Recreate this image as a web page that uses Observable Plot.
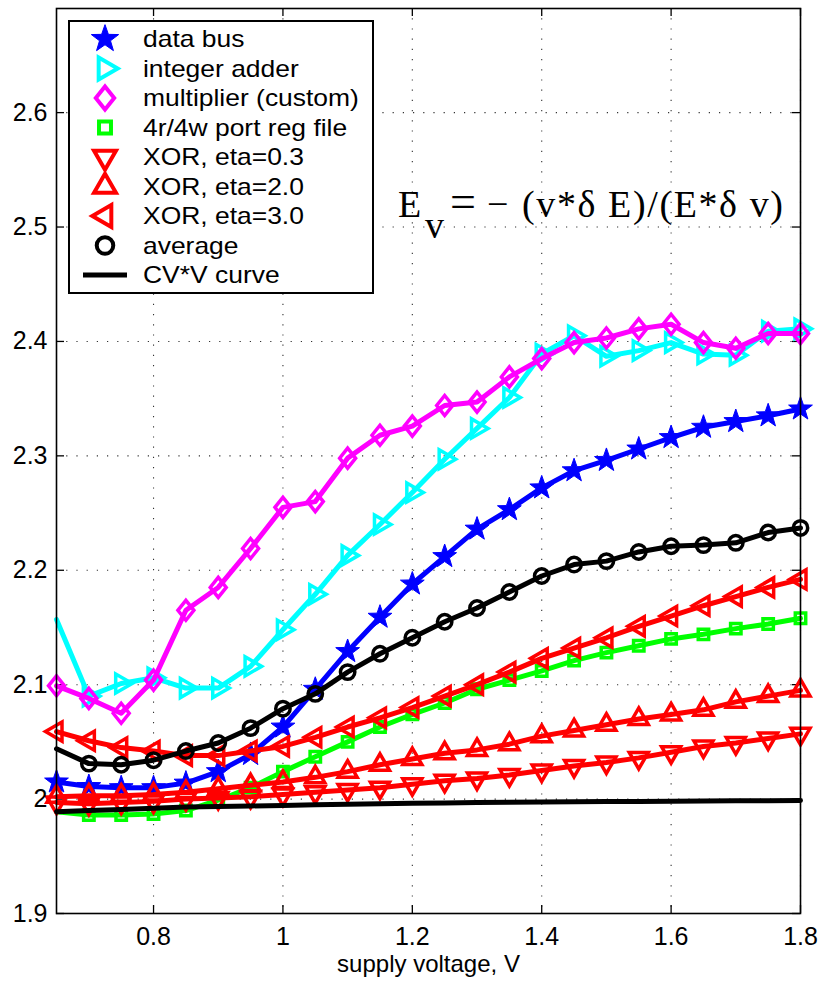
<!DOCTYPE html>
<html>
<head>
<meta charset="utf-8">
<script src="https://cdn.jsdelivr.net/npm/d3@7"></script>
<script src="https://cdn.jsdelivr.net/npm/@observablehq/plot@0.6"></script>
<style>
  html, body { margin: 0; padding: 0; background: #fff; }
  #chart { width: 820px; height: 984px; }
</style>
</head>
<body>
<div id="chart"></div>
<script>
// ---------- data ----------
const voltage = [0.65, 0.70, 0.75, 0.80, 0.85, 0.90, 0.95, 1.00, 1.05, 1.10, 1.15, 1.20,
                 1.25, 1.30, 1.35, 1.40, 1.45, 1.50, 1.55, 1.60, 1.65, 1.70, 1.75, 1.80];

const dataBus    = [2.015, 2.011, 2.010, 2.010, 2.014, 2.024, 2.039, 2.063, 2.096, 2.129, 2.159, 2.188,
                    2.212, 2.236, 2.253, 2.272, 2.287, 2.296, 2.306, 2.316, 2.325, 2.330, 2.335, 2.341];
const intAdder   = [2.157, 2.090, 2.101, 2.106, 2.097, 2.097, 2.116, 2.148, 2.179, 2.213, 2.240, 2.268,
                    2.297, 2.324, 2.351, 2.389, 2.405, 2.387, 2.392, 2.399, 2.389, 2.388, 2.409, 2.411];
const multiplier = [2.099, 2.088, 2.075, 2.104, 2.165, 2.185, 2.219, 2.255, 2.260, 2.298, 2.318, 2.326,
                    2.344, 2.347, 2.369, 2.385, 2.399, 2.403, 2.411, 2.415, 2.399, 2.394, 2.407, 2.407];
const regFile    = [1.989, 1.986, 1.986, 1.987, 1.990, 1.999, 2.010, 2.024, 2.037, 2.050, 2.063, 2.074,
                    2.084, 2.096, 2.104, 2.112, 2.121, 2.128, 2.134, 2.140, 2.144, 2.149, 2.153, 2.158];
const xorEta03   = [1.997, 1.996, 1.997, 1.998, 2.000, 2.001, 2.002, 2.004, 2.006, 2.008, 2.010, 2.013,
                    2.016, 2.018, 2.021, 2.025, 2.029, 2.032, 2.036, 2.041, 2.046, 2.049, 2.053, 2.057];
const xorEta20   = [2.002, 2.003, 2.003, 2.004, 2.006, 2.009, 2.012, 2.015, 2.019, 2.024, 2.030, 2.035,
                    2.040, 2.043, 2.048, 2.055, 2.060, 2.065, 2.070, 2.074, 2.078, 2.085, 2.090, 2.095];
const xorEta30   = [2.059, 2.051, 2.045, 2.042, 2.038, 2.038, 2.042, 2.046, 2.054, 2.063, 2.071, 2.080,
                    2.090, 2.100, 2.111, 2.123, 2.132, 2.141, 2.151, 2.160, 2.169, 2.177, 2.185, 2.192];
const average    = [2.044, 2.031, 2.030, 2.034, 2.042, 2.049, 2.062, 2.079, 2.092, 2.111, 2.127, 2.141,
                    2.155, 2.167, 2.181, 2.195, 2.205, 2.208, 2.216, 2.221, 2.222, 2.224, 2.233, 2.237];
const cvvCurve   = [1.989, 1.990, 1.991, 1.992, 1.993, 1.9935, 1.994, 1.9945, 1.995, 1.9955, 1.996, 1.9963,
                    1.9966, 1.997, 1.9972, 1.9975, 1.9977, 1.998, 1.998, 1.9982, 1.9983, 1.9985, 1.9986, 1.9987];

const seriesNames = ["data bus", "integer adder", "multiplier (custom)", "4r/4w port reg file",
                     "XOR, eta=0.3", "XOR, eta=2.0", "XOR, eta=3.0", "average", "CV*V curve"];
const seriesValues = [dataBus, intAdder, multiplier, regFile, xorEta03, xorEta20, xorEta30, average, cvvCurve];

const xTicks = [0.8, 1, 1.2, 1.4, 1.6, 1.8];
const yTicks = [1.9, 2, 2.1, 2.2, 2.3, 2.4, 2.5, 2.6];
const xLabel = "supply voltage, V";

// ---------- custom symbols (r = outer radius) ----------
function poly(points) {
  return {
    draw(ctx, size) {
      const r = Math.sqrt(size / Math.PI);
      points.forEach(([px, py], i) => i ? ctx.lineTo(px * r, py * r) : ctx.moveTo(px * r, py * r));
      ctx.closePath();
    }
  };
}
const s3 = Math.sqrt(3) / 2;
const triUp    = poly([[0, -1], [s3, 0.5], [-s3, 0.5]]);
const triDown  = poly([[0, 1], [s3, -0.5], [-s3, -0.5]]);
const triRight = poly([[1, 0], [-0.5, s3], [-0.5, -s3]]);
const triLeft  = poly([[-1, 0], [0.5, s3], [0.5, -s3]]);
const diamond  = poly([[0, -1], [0.8, 0], [0, 1], [-0.8, 0]]);
const square   = poly([[-1, -1], [1, -1], [1, 1], [-1, 1]]);
const starPts = [];
for (let k = 0; k < 10; k++) {
  const a = -Math.PI / 2 + k * Math.PI / 5;
  const rr = k % 2 ? 0.40 : 1;
  starPts.push([rr * Math.cos(a), rr * Math.sin(a)]);
}
const star = poly(starPts);

// style per series
const styles = [
  {color: "#0000ff", symbol: star,     r: 12.5, fill: true,  skipFirst: false},
  {color: "#00ffff", symbol: triRight, r: 11,   fill: false, skipFirst: true},
  {color: "#ff00ff", symbol: diamond,  r: 10,   fill: false, skipFirst: false},
  {color: "#00ff00", symbol: square,   r: 5.2,  fill: false, skipFirst: true},
  {color: "#ff0000", symbol: triDown,  r: 11,   fill: false, skipFirst: false},
  {color: "#ff0000", symbol: triUp,    r: 11,   fill: false, skipFirst: false},
  {color: "#ff0000", symbol: triLeft,  r: 11,   fill: false, skipFirst: false},
  {color: "#000000", symbol: "circle", r: 7.2,  fill: false, skipFirst: true},
  {color: "#000000", symbol: null,     r: 0,    fill: false, skipFirst: false}
];

const xDomain = [0.65, 1.8];
const yDomain = [1.9, 2.691];
const W = 820, H = 984, mL = 56, mR = 20, mT = 8, mB = 71;
const pxX = (W - mL - mR) / (xDomain[1] - xDomain[0]);
const pxY = (H - mT - mB) / (yDomain[1] - yDomain[0]);
const tickLen = 8;
const FONT = "'Liberation Sans', Arial, Helvetica, sans-serif";

const marks = [];
// grid
marks.push(Plot.ruleX(xTicks, {x: d => d, stroke: "#333", strokeWidth: 1.1, strokeDasharray: "1.2,9"}));
marks.push(Plot.ruleY(yTicks, {y: d => d, stroke: "#333", strokeWidth: 1.1, strokeDasharray: "1.2,9"}));
// inward ticks on all sides
marks.push(Plot.ruleX(xTicks, {x: d => d, y1: yDomain[0], y2: yDomain[0] + tickLen / pxY, stroke: "#000", strokeWidth: 1.3}));
marks.push(Plot.ruleX(xTicks, {x: d => d, y1: yDomain[1], y2: yDomain[1] - tickLen / pxY, stroke: "#000", strokeWidth: 1.3}));
marks.push(Plot.ruleY(yTicks, {y: d => d, x1: xDomain[0], x2: xDomain[0] + tickLen / pxX, stroke: "#000", strokeWidth: 1.3}));
marks.push(Plot.ruleY(yTicks, {y: d => d, x1: xDomain[1], x2: xDomain[1] - tickLen / pxX, stroke: "#000", strokeWidth: 1.3}));

// series
seriesValues.forEach((vals, si) => {
  const st = styles[si];
  const rows = voltage.map((v, i) => ({v, e: vals[i]}));
  marks.push(Plot.line(rows, {x: "v", y: "e", stroke: st.color, strokeWidth: 5, strokeLinejoin: "round"}));
  if (st.symbol) {
    const pts = st.skipFirst ? rows.slice(1) : rows;
    marks.push(Plot.dot(pts, {
      x: "v", y: "e", symbol: st.symbol, r: st.r,
      stroke: st.color, strokeWidth: st.fill ? 1 : 3.5,
      fill: st.fill ? st.color : "none"
    }));
  }
});

// frame
marks.push(Plot.frame({stroke: "#000", strokeWidth: 1.6}));
// tick labels
marks.push(Plot.text(xTicks, {x: d => d, y: yDomain[0], dy: 23, text: d => String(d), fontSize: 25, fill: "#000"}));
marks.push(Plot.text(yTicks, {x: xDomain[0], y: d => d, dx: -9, textAnchor: "end", text: d => String(d), fontSize: 25, fill: "#000"}));
marks.push(Plot.text([xLabel], {frameAnchor: "bottom", dy: 58, text: d => d, fontSize: 24, fill: "#000"}));

const chart = Plot.plot({
  width: W, height: H,
  marginLeft: mL, marginRight: mR, marginTop: mT, marginBottom: mB,
  x: {domain: xDomain, axis: null},
  y: {domain: yDomain, axis: null},
  style: {background: "#fff", overflow: "visible", fontFamily: FONT},
  marks
});
document.getElementById("chart").appendChild(chart);

// ---------- legend + equation overlay ----------
const svg = d3.select(chart);
const lg = svg.append("g").attr("text-anchor", "start").attr("font-family", FONT);
lg.append("rect").attr("x", 69).attr("y", 21).attr("width", 304).attr("height", 272)
  .attr("fill", "#fff").attr("stroke", "#000").attr("stroke-width", 2);
const rowY0 = 39, rowDY = 29.5, symX = 105, textX = 143, lgScale = 1.15;
seriesNames.forEach((name, i) => {
  const st = styles[i];
  const y = rowY0 + i * rowDY;
  if (st.symbol) {
    const type = st.symbol === "circle" ? d3.symbolCircle : st.symbol;
    const rr = st.r * lgScale;
    lg.append("path")
      .attr("transform", `translate(${symX},${y})`)
      .attr("d", d3.symbol(type, Math.PI * rr * rr)())
      .attr("fill", st.fill ? st.color : "none")
      .attr("stroke", st.color)
      .attr("stroke-width", st.fill ? 1 : 4);
  } else {
    lg.append("line").attr("x1", 83).attr("x2", 127).attr("y1", y).attr("y2", y)
      .attr("stroke", st.color).attr("stroke-width", 5);
  }
  lg.append("text").attr("transform", `translate(${textX},${y}) scale(1.15,1)`).attr("dy", "0.36em")
    .attr("font-size", 23).attr("fill", "#000").text(name);
});

const eqG = svg.append("g").attr("text-anchor", "start")
  .attr("font-family", "'Liberation Serif', 'Times New Roman', serif")
  .attr("font-size", 38).attr("fill", "#000");
const eqBase = 217;
eqG.append("text").attr("x", 398).attr("y", eqBase).text("E");
eqG.append("text").attr("x", 425).attr("y", eqBase + 21).text("v");
eqG.append("text").attr("x", 450).attr("y", eqBase).attr("font-size", 46).text("=");
eqG.append("text").attr("x", 487).attr("y", eqBase).text("−");
eqG.append("text").attr("x", 522).attr("y", eqBase)
  .attr("textLength", 261).attr("lengthAdjust", "spacing").text("(v*δ E)/(E*δ v)");
</script>
</body>
</html>
